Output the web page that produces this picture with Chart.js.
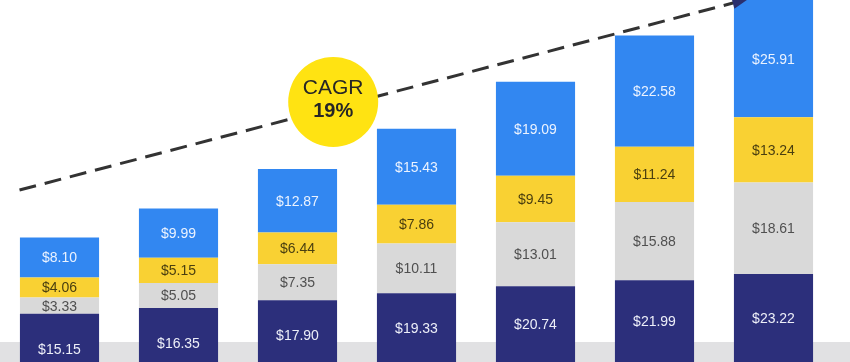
<!DOCTYPE html>
<html>
<head>
<meta charset="utf-8">
<script src="https://cdn.jsdelivr.net/npm/chart.js@4/dist/chart.umd.min.js"></script>
<style>
html,body{margin:0;padding:0;background:#fff;}
#wrap{width:850px;height:362px;position:relative;}
</style>
</head>
<body>
<div id="wrap"><canvas id="c" width="850" height="362"></canvas></div>
<script>
const categories = ['1','2','3','4','5','6','7'];
const seriesNavy   = [15.15, 16.35, 17.90, 19.33, 20.74, 21.99, 23.22];
const seriesGray   = [3.33, 5.05, 7.35, 10.11, 13.01, 15.88, 18.61];
const seriesYellow = [4.06, 5.15, 6.44, 7.86, 9.45, 11.24, 13.24];
const seriesBlue   = [8.10, 9.99, 12.87, 15.43, 19.09, 22.58, 25.91];
const cagrLabel = 'CAGR';
const cagrValue = '19%';
// trend arrow endpoints: [category index, value]
const trendStart = [-0.336, 40.3];
const trendEnd   = [5.756, 78.9];

const labelColors = ['#eceef8', '#505050', '#4a3f10', '#eaf2ff'];

const labelPlugin = {
  id: 'segLabels',
  beforeDatasetsDraw(chart) {
    const {ctx} = chart;
    ctx.save();
    ctx.fillStyle = '#e1e1e3';
    const bandTop = chart.height - 20;
    ctx.fillRect(0, bandTop, chart.width, chart.height - bandTop);
    ctx.restore();
  },
  afterDatasetsDraw(chart) {
    const {ctx, chartArea} = chart;
    ctx.save();
    ctx.font = '14px "Liberation Sans Narrow", "Liberation Sans", Arial, sans-serif';
    ctx.textAlign = 'center';
    ctx.textBaseline = 'middle';
    chart.data.datasets.forEach((ds, di) => {
      const meta = chart.getDatasetMeta(di);
      meta.data.forEach((el, i) => {
        let top = Math.min(el.y, el.base), bot = Math.max(el.y, el.base);
        top = Math.max(top, chartArea.top);
        bot = Math.min(bot, chartArea.bottom);
        if (bot - top < 8) return;
        let yy = (top + bot) / 2 + 1;
        if (di === 0) yy = Math.min(Math.max(yy, top + 36), chartArea.bottom - 12);
        ctx.fillStyle = labelColors[di];
        ctx.fillText('$' + ds.data[i].toFixed(2), el.x, yy);
      });
    });

    // trend dashed arrow
    const xs = chart.scales.x, ys = chart.scales.y;
    const x1 = xs.getPixelForValue(trendStart[0]), y1 = ys.getPixelForValue(trendStart[1]);
    const x2 = xs.getPixelForValue(trendEnd[0]), y2 = ys.getPixelForValue(trendEnd[1]);
    const ang = Math.atan2(y2 - y1, x2 - x1);
    ctx.strokeStyle = '#333333';
    ctx.lineWidth = 3;
    ctx.setLineDash([17, 9]);
    ctx.beginPath();
    ctx.moveTo(x1, y1);
    ctx.lineTo(x2 - 10 * Math.cos(ang), y2 - 10 * Math.sin(ang));
    ctx.stroke();
    ctx.setLineDash([]);
    ctx.fillStyle = '#2a2f6e';
    ctx.beginPath();
    ctx.moveTo(x2 + 4 * Math.cos(ang), y2 + 4 * Math.sin(ang));
    ctx.lineTo(x2 - 12 * Math.cos(ang) + 6 * Math.sin(ang), y2 - 12 * Math.sin(ang) - 6 * Math.cos(ang));
    ctx.lineTo(x2 - 12 * Math.cos(ang) - 6 * Math.sin(ang), y2 - 12 * Math.sin(ang) + 6 * Math.cos(ang));
    ctx.closePath();
    ctx.fill();

    // CAGR badge
    const cx = xs.getPixelForValue(2.3), cy = ys.getPixelForValue(58.2);
    ctx.fillStyle = '#ffe312';
    ctx.beginPath();
    ctx.arc(cx, cy, 45, 0, Math.PI * 2);
    ctx.fill();
    ctx.fillStyle = '#262626';
    ctx.font = '21px "Liberation Sans Narrow", "Liberation Sans", Arial, sans-serif';
    ctx.fillText(cagrLabel, cx, cy - 14);
    ctx.font = 'bold 20px "Liberation Sans Narrow", "Liberation Sans", Arial, sans-serif';
    ctx.fillText(cagrValue, cx, cy + 10);
    ctx.restore();
  }
};

const common = {barPercentage: 0.665, categoryPercentage: 1, borderWidth: 0};
new Chart(document.getElementById('c'), {
  type: 'bar',
  data: {
    labels: categories,
    datasets: [
      {label: 'navy', data: seriesNavy, backgroundColor: '#2c2f7b', ...common},
      {label: 'gray', data: seriesGray, backgroundColor: '#d9d9d9', ...common},
      {label: 'yellow', data: seriesYellow, backgroundColor: '#f9d133', ...common},
      {label: 'blue', data: seriesBlue, backgroundColor: '#3287f1', ...common}
    ]
  },
  options: {
    responsive: false,
    animation: false,
    layout: {padding: {left: 0, right: 17, top: 0, bottom: 0}},
    plugins: {legend: {display: false}, tooltip: {enabled: false}},
    scales: {
      x: {stacked: true, display: false},
      y: {stacked: true, display: false, min: 5.37, max: 78.9}
    }
  },
  plugins: [labelPlugin]
});
</script>
</body>
</html>
